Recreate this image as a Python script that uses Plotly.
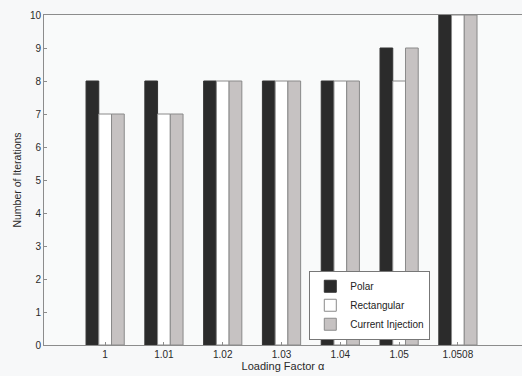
import plotly.graph_objects as go

categories = ["1", "1.01", "1.02", "1.03", "1.04", "1.05", "1.0508"]
polar = [8, 8, 8, 8, 8, 9, 10]
rectangular = [7, 7, 8, 8, 8, 8, 10]
current_injection = [7, 7, 8, 8, 8, 9, 10]
y_ticks = [0, 1, 2, 3, 4, 5, 6, 7, 8, 9, 10]

FAM = "Liberation Sans, Arial, sans-serif"

fig = go.Figure()
fig.add_bar(x=categories, y=polar, name="Polar",
            marker=dict(color="#2b2b2b", line=dict(color="#333333", width=1)))
fig.add_bar(x=categories, y=rectangular, name="Rectangular",
            marker=dict(color="#ffffff", line=dict(color="#8a8a8a", width=1)))
fig.add_bar(x=categories, y=current_injection, name="Current Injection",
            marker=dict(color="#c6c2c2", line=dict(color="#8a8a8a", width=1)))

fig.update_layout(
    width=522, height=376,
    margin=dict(l=44, r=0, t=15, b=31),
    paper_bgcolor="#f7f8f9",
    plot_bgcolor="#f9fafa",
    barmode="group",
    bargap=0.35,
    bargroupgap=0,
    font=dict(family=FAM, size=10, color="#2a2a2a"),
    showlegend=True,
    legend=dict(
        x=0.555, y=0.225, xanchor="left", yanchor="top",
        bgcolor="#ffffff", bordercolor="#777777", borderwidth=1,
        font=dict(family=FAM, size=10, color="#222222"),
        itemwidth=30, tracegroupgap=0,
    ),
    xaxis=dict(
        type="category",
        range=[-1.04, 7.09],
        showline=True, linecolor="#8c8c8c", linewidth=1, mirror=True,
        ticks="inside", ticklen=3, tickcolor="#8c8c8c",
        showgrid=False, zeroline=False,
        tickfont=dict(family=FAM, size=10, color="#2a2a2a"),
        title=dict(text="Loading Factor α", standoff=0,
                   font=dict(family=FAM, size=11, color="#2a2a2a")),
    ),
    yaxis=dict(
        range=[0, 10],
        tickvals=y_ticks,
        showline=True, linecolor="#8c8c8c", linewidth=1, mirror=False,
        ticks="inside", ticklen=3, tickcolor="#8c8c8c",
        showgrid=False, zeroline=False,
        tickfont=dict(family=FAM, size=10, color="#2a2a2a"),
        title=dict(text="Number of Iterations", standoff=6,
                   font=dict(family=FAM, size=10.5, color="#2a2a2a")),
    ),
)

fig.write_html("out.html")
